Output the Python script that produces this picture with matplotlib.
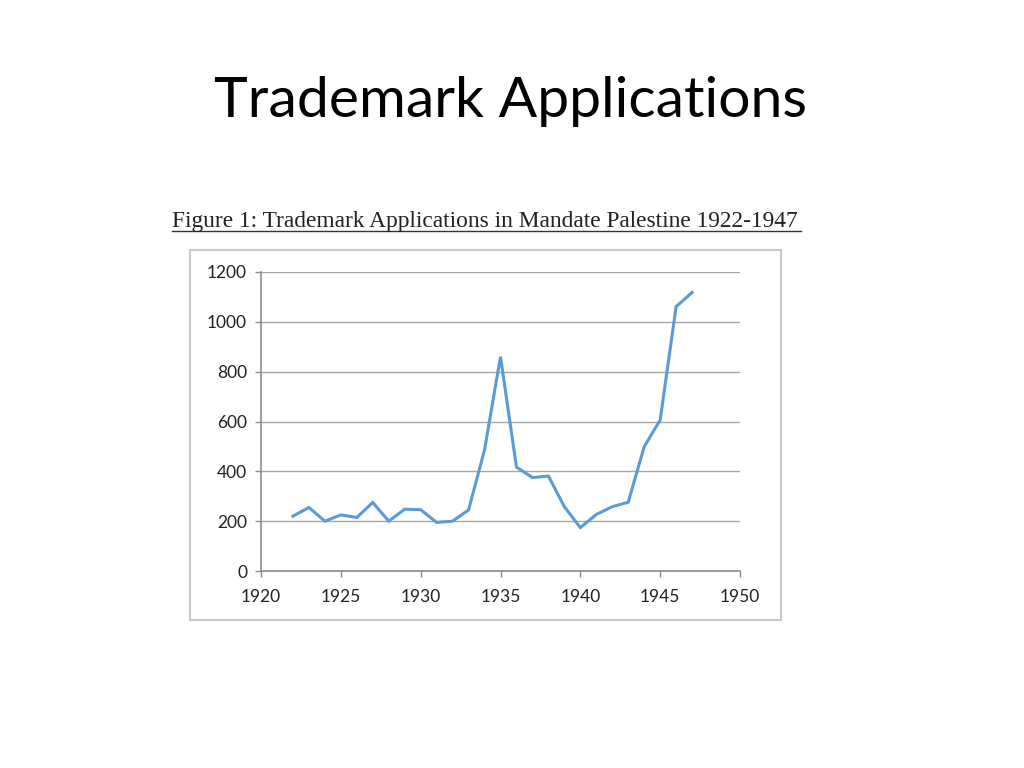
import matplotlib
matplotlib.use("Agg")
import matplotlib.pyplot as plt
from matplotlib.patches import Rectangle
from matplotlib.lines import Line2D

years = list(range(1922, 1948))
applications = [220, 255, 200, 225, 215, 275, 200, 248, 246, 195, 200, 245,
                486, 860, 417, 375, 381, 258, 174, 227, 258, 276, 499, 606,
                1061, 1118]
x_ticks = [1920, 1925, 1930, 1935, 1940, 1945, 1950]
y_ticks = [0, 200, 400, 600, 800, 1000, 1200]

slide_title = "Trademark Applications"
fig_caption = "Figure 1: Trademark Applications in Mandate Palestine 1922-1947"

W, H = 1024, 768
fig = plt.figure(figsize=(W / 100, H / 100), dpi=100)
fig.patch.set_facecolor("white")

# slide title
fig.text(511 / W, 1 - 117 / H, slide_title, ha="center", va="baseline",
         fontsize=41, family=["Lato", "DejaVu Sans"], color="black")

# caption
fig.text(172 / W, 1 - 227 / H, fig_caption, ha="left", va="baseline",
         fontsize=16.8, family=["Liberation Serif", "DejaVu Serif"], color="#222222")
fig.add_artist(Line2D([172 / W, 801 / W], [1 - 231 / H, 1 - 231 / H],
                      transform=fig.transFigure, color="#333333", lw=1.0))

# chart border box
fig.add_artist(Rectangle((190 / W, 1 - 620 / H), (781 - 190) / W, (620 - 250) / H,
                         transform=fig.transFigure, fill=False,
                         edgecolor="#c8c8c8", lw=1.5))

ax = fig.add_axes([261 / W, 1 - 571 / H, (740 - 261) / W, (571 - 272) / H])
ax.plot(years, applications, color="#5B9BD5", lw=2.2, solid_joinstyle="miter")
ax.set_xlim(1920, 1950)
ax.set_ylim(0, 1200)
ax.set_xticks(x_ticks)
ax.set_yticks(y_ticks)
ax.yaxis.grid(True, color="#a6a6a6", lw=1.0)
ax.set_axisbelow(True)
for s in ["top", "right"]:
    ax.spines[s].set_visible(False)
for s in ["left", "bottom"]:
    ax.spines[s].set_color("#8c8c8c")
    ax.spines[s].set_linewidth(1.2)
ax.tick_params(axis="both", colors="#8c8c8c", length=4, width=1.0,
               labelcolor="#222222", labelsize=12.5)
ax.tick_params(axis="x", pad=9)
ax.tick_params(axis="y", pad=6)
for lab in ax.get_xticklabels() + ax.get_yticklabels():
    lab.set_family(["Lato", "DejaVu Sans"])

fig.savefig("out.png", dpi=100)
